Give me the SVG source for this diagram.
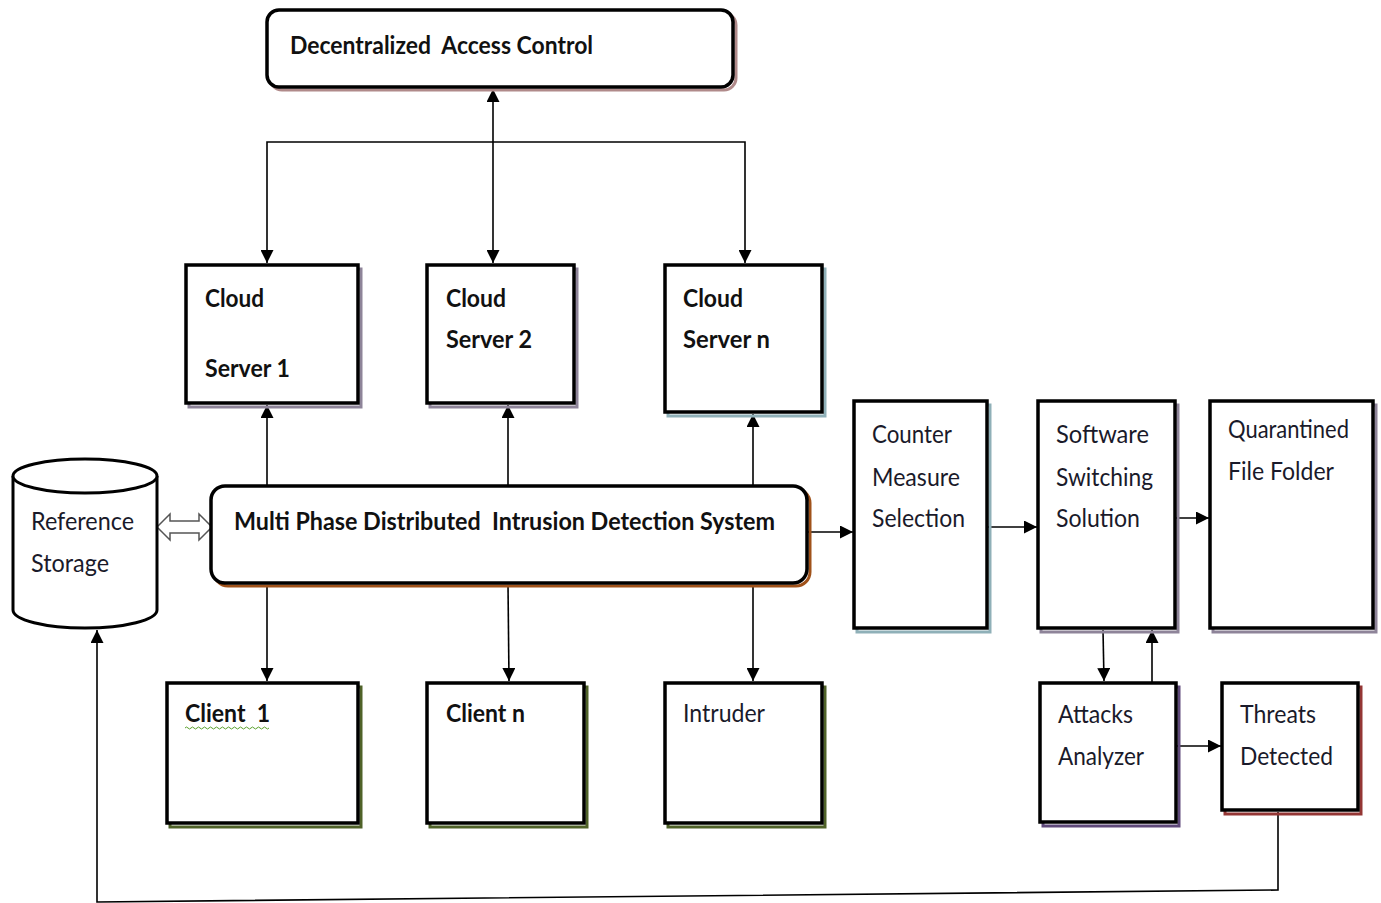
<svg xmlns="http://www.w3.org/2000/svg" width="1381" height="903" viewBox="0 0 1381 903">
<style>
.box{fill:#fff;stroke:#000;stroke-width:3.5}
.sh{fill:none;stroke-width:3}
.b{font-family:Lato,"Liberation Sans",sans-serif;font-weight:bold;font-size:25px;fill:#111;white-space:pre}
.n{font-family:Lato,"Liberation Sans",sans-serif;font-size:25px;fill:#1a1a2a}
.c{fill:none;stroke:#000;stroke-width:1.6}
</style>
<defs>
<marker id="ah" viewBox="0 0 12 12" refX="12" refY="6" markerWidth="13" markerHeight="13" markerUnits="userSpaceOnUse" orient="auto-start-reverse">
<path d="M0,0 L12,6 L0,12 z" fill="#000"/>
</marker>
</defs>
<rect width="1381" height="903" fill="#fff"/>

<g id="connectors">
<line class="c" x1="493" y1="89" x2="493" y2="263" marker-start="url(#ah)" marker-end="url(#ah)"/>
<polyline class="c" points="267,263 267,142 745,142 745,263" marker-start="url(#ah)" marker-end="url(#ah)"/>
<line class="c" x1="267" y1="486" x2="267" y2="405" marker-end="url(#ah)"/>
<line class="c" x1="508" y1="486" x2="508" y2="405" marker-end="url(#ah)"/>
<line class="c" x1="753" y1="486" x2="753" y2="414" marker-end="url(#ah)"/>
<line class="c" x1="267" y1="585" x2="267" y2="681" marker-end="url(#ah)"/>
<line class="c" x1="508" y1="585" x2="509" y2="681" marker-end="url(#ah)"/>
<line class="c" x1="753" y1="585" x2="753" y2="681" marker-end="url(#ah)"/>
<line class="c" x1="808" y1="532" x2="853" y2="532" marker-end="url(#ah)"/>
<line class="c" x1="988" y1="527" x2="1037" y2="527" marker-end="url(#ah)"/>
<line class="c" x1="1176" y1="518" x2="1209" y2="518" marker-end="url(#ah)"/>
<line class="c" x1="1103" y1="630" x2="1104" y2="681" marker-end="url(#ah)"/>
<line class="c" x1="1152" y1="683" x2="1152" y2="630" marker-end="url(#ah)"/>
<line class="c" x1="1177" y1="746" x2="1221" y2="746" marker-end="url(#ah)"/>
<polyline class="c" points="1278,812 1278,890 97,902 97,630" marker-end="url(#ah)"/>
<polygon points="157,527 170,514 170,521 199,521 199,514 212,527 199,540 199,533 170,533 170,540" fill="#fff" stroke="#555" stroke-width="1.5"/>
</g>

<g id="dac">
<rect x="270" y="13" width="466" height="77" rx="12" fill="none" stroke="#b08a8a" stroke-width="3"/>
<rect x="267" y="10" width="466" height="77" rx="12" fill="#fff" stroke="#000" stroke-width="3.5"/>
<text class="b" x="290" y="54" textLength="303" lengthAdjust="spacingAndGlyphs">Decentralized  Access Control</text>
</g>

<g id="cs1">
<rect class="sh" x="189" y="269" width="172" height="138" stroke="#8e8499"/>
<rect class="box" x="186" y="265" width="172" height="138"/>
<text class="b" x="205" y="307" textLength="59" lengthAdjust="spacingAndGlyphs">Cloud</text>
<text class="b" x="205" y="377" textLength="85" lengthAdjust="spacingAndGlyphs">Server 1</text>
</g>

<g id="cs2">
<rect class="sh" x="430" y="269" width="147" height="138" stroke="#8e8499"/>
<rect class="box" x="427" y="265" width="147" height="138"/>
<text class="b" x="446" y="307" textLength="60" lengthAdjust="spacingAndGlyphs">Cloud</text>
<text class="b" x="446" y="348" textLength="86" lengthAdjust="spacingAndGlyphs">Server 2</text>
</g>

<g id="csn">
<rect class="sh" x="668" y="269" width="157" height="147" stroke="#8fb0b8"/>
<rect class="box" x="665" y="265" width="157" height="147"/>
<text class="b" x="683" y="307" textLength="60" lengthAdjust="spacingAndGlyphs">Cloud</text>
<text class="b" x="683" y="348" textLength="87" lengthAdjust="spacingAndGlyphs">Server n</text>
</g>

<g id="storage">
<path d="M13,476 L13,610 A72,18 0 0 0 157,610 L157,476" fill="#fff" stroke="#000" stroke-width="3"/>
<ellipse cx="85" cy="476" rx="72" ry="17" fill="#fff" stroke="#000" stroke-width="3"/>
<text class="n" x="31" y="530" textLength="103" lengthAdjust="spacingAndGlyphs" fill="#1f2a44">Reference</text>
<text class="n" x="31" y="572" textLength="78" lengthAdjust="spacingAndGlyphs" fill="#1f2a44">Storage</text>
</g>

<g id="mpdids">
<rect x="214" y="489" width="596" height="97" rx="14" fill="none" stroke="#a0521a" stroke-width="3"/>
<rect x="211" y="486" width="596" height="97" rx="14" fill="#fff" stroke="#000" stroke-width="3.5"/>
<text class="b" x="234" y="530" textLength="541" lengthAdjust="spacingAndGlyphs">Multi Phase Distributed  Intrusion Detection System</text>
</g>

<g id="client1">
<rect class="sh" x="170" y="687" width="191" height="140" stroke="#4f6228"/>
<rect class="box" x="167" y="683" width="191" height="140"/>
<text class="b" x="185" y="722" textLength="85" lengthAdjust="spacingAndGlyphs">Client  1</text>
<path d="M185,728 q1.5,-2 3,0 t3,0 t3,0 t3,0 t3,0 t3,0 t3,0 t3,0 t3,0 t3,0 t3,0 t3,0 t3,0 t3,0 t3,0 t3,0 t3,0 t3,0 t3,0 t3,0 t3,0 t3,0 t3,0 t3,0 t3,0 t3,0 t3,0 t3,0" fill="none" stroke="#5aa02c" stroke-width="1"/>
</g>

<g id="clientn">
<rect class="sh" x="430" y="687" width="157" height="140" stroke="#4f6228"/>
<rect class="box" x="427" y="683" width="157" height="140"/>
<text class="b" x="446" y="722" textLength="79" lengthAdjust="spacingAndGlyphs">Client n</text>
</g>

<g id="intruder">
<rect class="sh" x="668" y="687" width="157" height="140" stroke="#4f6228"/>
<rect class="box" x="665" y="683" width="157" height="140"/>
<text class="n" x="683" y="722" textLength="82" lengthAdjust="spacingAndGlyphs">Intruder</text>
</g>

<g id="cms">
<rect class="sh" x="857" y="405" width="133" height="227" stroke="#8fb0b8"/>
<rect class="box" x="854" y="401" width="133" height="227"/>
<text class="n" x="872" y="443" textLength="80" lengthAdjust="spacingAndGlyphs">Counter</text>
<text class="n" x="872" y="486" textLength="88" lengthAdjust="spacingAndGlyphs">Measure</text>
<text class="n" x="872" y="527" textLength="93" lengthAdjust="spacingAndGlyphs">Selection</text>
</g>

<g id="sss">
<rect class="sh" x="1041" y="405" width="137" height="227" stroke="#8e8499"/>
<rect class="box" x="1038" y="401" width="137" height="227"/>
<text class="n" x="1056" y="443" textLength="93" lengthAdjust="spacingAndGlyphs">Software</text>
<text class="n" x="1056" y="486" textLength="97" lengthAdjust="spacingAndGlyphs">Switching</text>
<text class="n" x="1056" y="527" textLength="84" lengthAdjust="spacingAndGlyphs">Solution</text>
</g>

<g id="qff">
<rect class="sh" x="1213" y="405" width="163" height="227" stroke="#8e8499"/>
<rect class="box" x="1210" y="401" width="163" height="227"/>
<text class="n" x="1228" y="438" textLength="121" lengthAdjust="spacingAndGlyphs">Quarantined</text>
<text class="n" x="1228" y="480" textLength="106" lengthAdjust="spacingAndGlyphs">File Folder</text>
</g>

<g id="aa">
<rect class="sh" x="1043" y="687" width="136" height="139" stroke="#5f497a"/>
<rect class="box" x="1040" y="683" width="136" height="139"/>
<text class="n" x="1058" y="723" textLength="75" lengthAdjust="spacingAndGlyphs">Attacks</text>
<text class="n" x="1058" y="765" textLength="86" lengthAdjust="spacingAndGlyphs">Analyzer</text>
</g>

<g id="td">
<rect class="sh" x="1225" y="687" width="136" height="127" stroke="#943634"/>
<rect class="box" x="1222" y="683" width="136" height="127"/>
<text class="n" x="1240" y="723" textLength="76" lengthAdjust="spacingAndGlyphs">Threats</text>
<text class="n" x="1240" y="765" textLength="93" lengthAdjust="spacingAndGlyphs">Detected</text>
</g>
</svg>
